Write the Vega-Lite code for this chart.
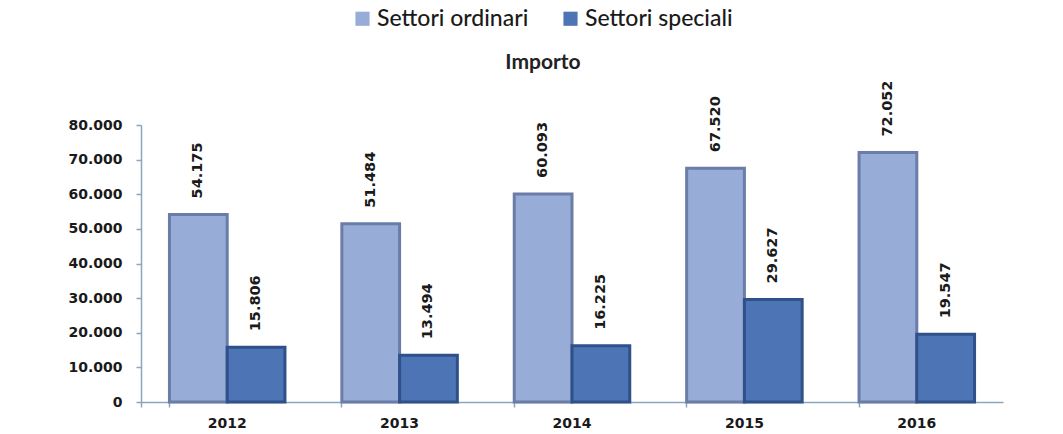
{
  "$schema": "https://vega.github.io/schema/vega-lite/v6.json",
  "width": 862,
  "height": 277,
  "autosize": {"type": "none"},
  "padding": {"left": 141, "top": 125, "right": 60, "bottom": 32},
  "background": "white",
  "config": {
    "view": {"stroke": null},
    "locale": {"number": {"decimal": ",", "thousands": ".", "grouping": [3], "currency": ["€", ""]}}
  },
  "title": {
    "text": "Importo",
    "anchor": "middle",
    "dx": -29,
    "offset": 0,
    "dy": 66,
    "font": "Lato",
    "fontSize": 21,
    "fontWeight": "bold",
    "color": "#222222"
  },
  "data": {
    "values": [
      {"anno": "2012", "settore": "Settori ordinari", "importo": 54175},
      {"anno": "2012", "settore": "Settori speciali", "importo": 15806},
      {"anno": "2013", "settore": "Settori ordinari", "importo": 51484},
      {"anno": "2013", "settore": "Settori speciali", "importo": 13494},
      {"anno": "2014", "settore": "Settori ordinari", "importo": 60093},
      {"anno": "2014", "settore": "Settori speciali", "importo": 16225},
      {"anno": "2015", "settore": "Settori ordinari", "importo": 67520},
      {"anno": "2015", "settore": "Settori speciali", "importo": 29627},
      {"anno": "2016", "settore": "Settori ordinari", "importo": 72052},
      {"anno": "2016", "settore": "Settori speciali", "importo": 19547}
    ]
  },
  "encoding": {
    "x": {
      "field": "anno",
      "type": "nominal",
      "scale": {"paddingInner": 0.33, "paddingOuter": 0.165},
      "axis": {
        "title": null,
        "labelAngle": 0,
        "labelFont": "DejaVu Sans",
        "labelFontSize": 14,
        "labelFontWeight": "bold",
        "labelColor": "#1a1a1a",
        "labelPadding": 9,
        "domainColor": "#8aa6bf",
        "domainWidth": 1.5,
        "tickColor": "#8aa6bf",
        "tickSize": 5,
        "tickWidth": 1.5,
        "bandPosition": 0,
        "tickExtra": true
      }
    },
    "xOffset": {"field": "settore", "type": "nominal", "scale": {"paddingInner": 0, "paddingOuter": 0}},
    "y": {
      "field": "importo",
      "type": "quantitative",
      "scale": {"domain": [0, 80000], "nice": false},
      "axis": {
        "title": null,
        "values": [0, 10000, 20000, 30000, 40000, 50000, 60000, 70000, 80000],
        "format": ",d",
        "grid": false,
        "labelFont": "DejaVu Sans",
        "labelFontSize": 14,
        "labelFontWeight": "bold",
        "labelColor": "#1a1a1a",
        "labelPadding": 14,
        "domainColor": "#8aa6bf",
        "domainWidth": 1.5,
        "tickColor": "#8aa6bf",
        "tickSize": 5,
        "tickWidth": 1.5
      }
    }
  },
  "layer": [
    {
      "mark": {"type": "bar", "strokeWidth": 3},
      "encoding": {
        "color": {
          "field": "settore",
          "type": "nominal",
          "scale": {"domain": ["Settori ordinari", "Settori speciali"], "range": ["#98acd8", "#4d75b6"]},
          "legend": {
            "title": null,
            "orient": "none",
            "direction": "horizontal",
            "legendX": 210,
            "legendY": -118,
            "symbolType": "square",
            "symbolSize": 200,
            "symbolStrokeWidth": 0,
            "labelFont": "Lato",
            "labelFontSize": 23,
            "labelFontWeight": 500,
            "labelColor": "#1a1a1a",
            "labelOffset": 3,
            "columnPadding": 30
          }
        },
        "stroke": {
          "field": "settore",
          "type": "nominal",
          "scale": {"domain": ["Settori ordinari", "Settori speciali"], "range": ["#6a7ca8", "#2f5089"]},
          "legend": null
        }
      }
    },
    {
      "mark": {
        "type": "text",
        "angle": 270,
        "align": "left",
        "baseline": "middle",
        "dx": 16,
        "font": "DejaVu Sans",
        "fontSize": 14.5,
        "fontWeight": "bold",
        "color": "#1a1a1a"
      },
      "encoding": {
        "text": {"field": "importo", "type": "quantitative", "format": ",d"}
      }
    }
  ]
}
